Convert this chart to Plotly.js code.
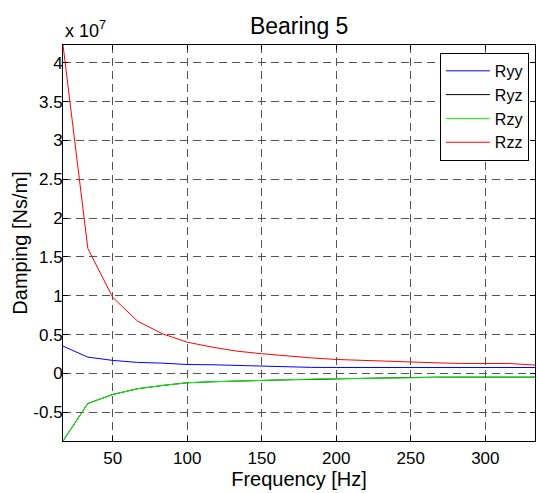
<!DOCTYPE html>
<html>
<head>
<meta charset="utf-8">
<script src="https://cdn.plot.ly/plotly-3.0.1.min.js"></script>
<style>html,body{margin:0;padding:0;background:#fff;}#chart{width:538px;height:493px;}</style>
</head>
<body>
<div id="chart"></div>
<script>
// Frequency [Hz]
const freq = [16.67, 33.33, 50, 66.67, 83.33, 100, 116.67, 133.33, 150, 166.67,
              183.33, 200, 216.67, 233.33, 250, 266.67, 283.33, 300, 316.67, 333.33];
// Damping [Ns/m]
const Ryy = [0.352e7, 0.21e7, 0.168e7, 0.142e7, 0.133e7, 0.115e7, 0.112e7, 0.103e7, 0.09e7, 0.08e7,
             0.078e7, 0.077e7, 0.077e7, 0.077e7, 0.077e7, 0.077e7, 0.077e7, 0.077e7, 0.077e7, 0.077e7];
const Ryz = [-0.87e7, -0.387e7, -0.271e7, -0.197e7, -0.155e7, -0.12e7, -0.107e7, -0.097e7, -0.086e7, -0.082e7,
             -0.077e7, -0.066e7, -0.064e7, -0.058e7, -0.049e7, -0.048e7, -0.048e7, -0.048e7, -0.048e7, -0.048e7];
const Rzy = [-0.87e7, -0.387e7, -0.271e7, -0.197e7, -0.155e7, -0.12e7, -0.107e7, -0.099e7, -0.086e7, -0.082e7,
             -0.077e7, -0.064e7, -0.064e7, -0.06e7, -0.048e7, -0.048e7, -0.048e7, -0.048e7, -0.048e7, -0.048e7];
const Rzz = [4.23e7, 1.61e7, 0.98e7, 0.674e7, 0.511e7, 0.403e7, 0.339e7, 0.287e7, 0.254e7, 0.223e7,
             0.2e7, 0.18e7, 0.168e7, 0.155e7, 0.146e7, 0.137e7, 0.129e7, 0.129e7, 0.127e7, 0.108e7];
const seriesNames = ["Ryy", "Ryz", "Rzy", "Rzz"];
const seriesColors = ["#0000ff", "#000000", "#00ff00", "#ff0000"];
const yTickVals = [-0.5e7, 0, 0.5e7, 1e7, 1.5e7, 2e7, 2.5e7, 3e7, 3.5e7, 4e7];
const yTickText = ["-0.5", "0", "0.5", "1", "1.5", "2", "2.5", "3", "3.5", "4"];
const xTickVals = [50, 100, 150, 200, 250, 300];

const allY = [Ryy, Ryz, Rzy, Rzz];
const traces = allY.map((y, i) => ({
  x: freq, y: y, type: "scatter", mode: "lines", name: seriesNames[i],
  line: {color: seriesColors[i], width: 1}
}));

const font = {family: "Liberation Sans, Arial, sans-serif", color: "#000"};
const f = s => Object.assign({size: s}, font);
const layout = {
  width: 538, height: 493,
  margin: {l: 63, r: 3, t: 45, b: 52},
  paper_bgcolor: "#fff", plot_bgcolor: "#fff",
  font: f(17),
  title: {text: "Bearing 5", font: f(23), x: 0.556, xanchor: "center", y: 0.947, yanchor: "middle"},
  xaxis: {
    range: [16.67, 333.33], tickvals: xTickVals, ticks: "inside", ticklen: 5, tickcolor: "#000",
    showline: true, linecolor: "#000", linewidth: 1, mirror: "ticks",
    showgrid: true, gridcolor: "#555", griddash: "8px,5px", gridwidth: 1, zeroline: false,
    tickfont: f(17), ticklabelstandoff: 2,
    title: {text: "Frequency [Hz]", font: f(20), standoff: 4}
  },
  yaxis: {
    range: [-0.87e7, 4.23e7], tickvals: yTickVals, ticktext: yTickText, ticks: "inside", ticklen: 5, tickcolor: "#000",
    showline: true, linecolor: "#000", linewidth: 1, mirror: "ticks",
    showgrid: true, gridcolor: "#555", griddash: "8px,5px", gridwidth: 1, zeroline: false,
    tickfont: f(17), ticklabelstandoff: -4,
    title: {text: "Damping [Ns/m]", font: f(20), standoff: 0}
  },
  legend: {
    x: 0.987, xanchor: "right", y: 0.98, yanchor: "top",
    bgcolor: "#fff", bordercolor: "#000", borderwidth: 1,
    font: f(16), tracegroupgap: 0, itemwidth: 44
  },
  annotations: [{
    xref: "paper", yref: "paper", x: 0, y: 1, xanchor: "left", yanchor: "bottom", yshift: 2,
    text: "x 10<sup>7</sup>", showarrow: false, font: f(18)
  }],
  showlegend: true
};
Plotly.newPlot("chart", traces, layout, {displayModeBar: false, staticPlot: true});
</script>
</body>
</html>
